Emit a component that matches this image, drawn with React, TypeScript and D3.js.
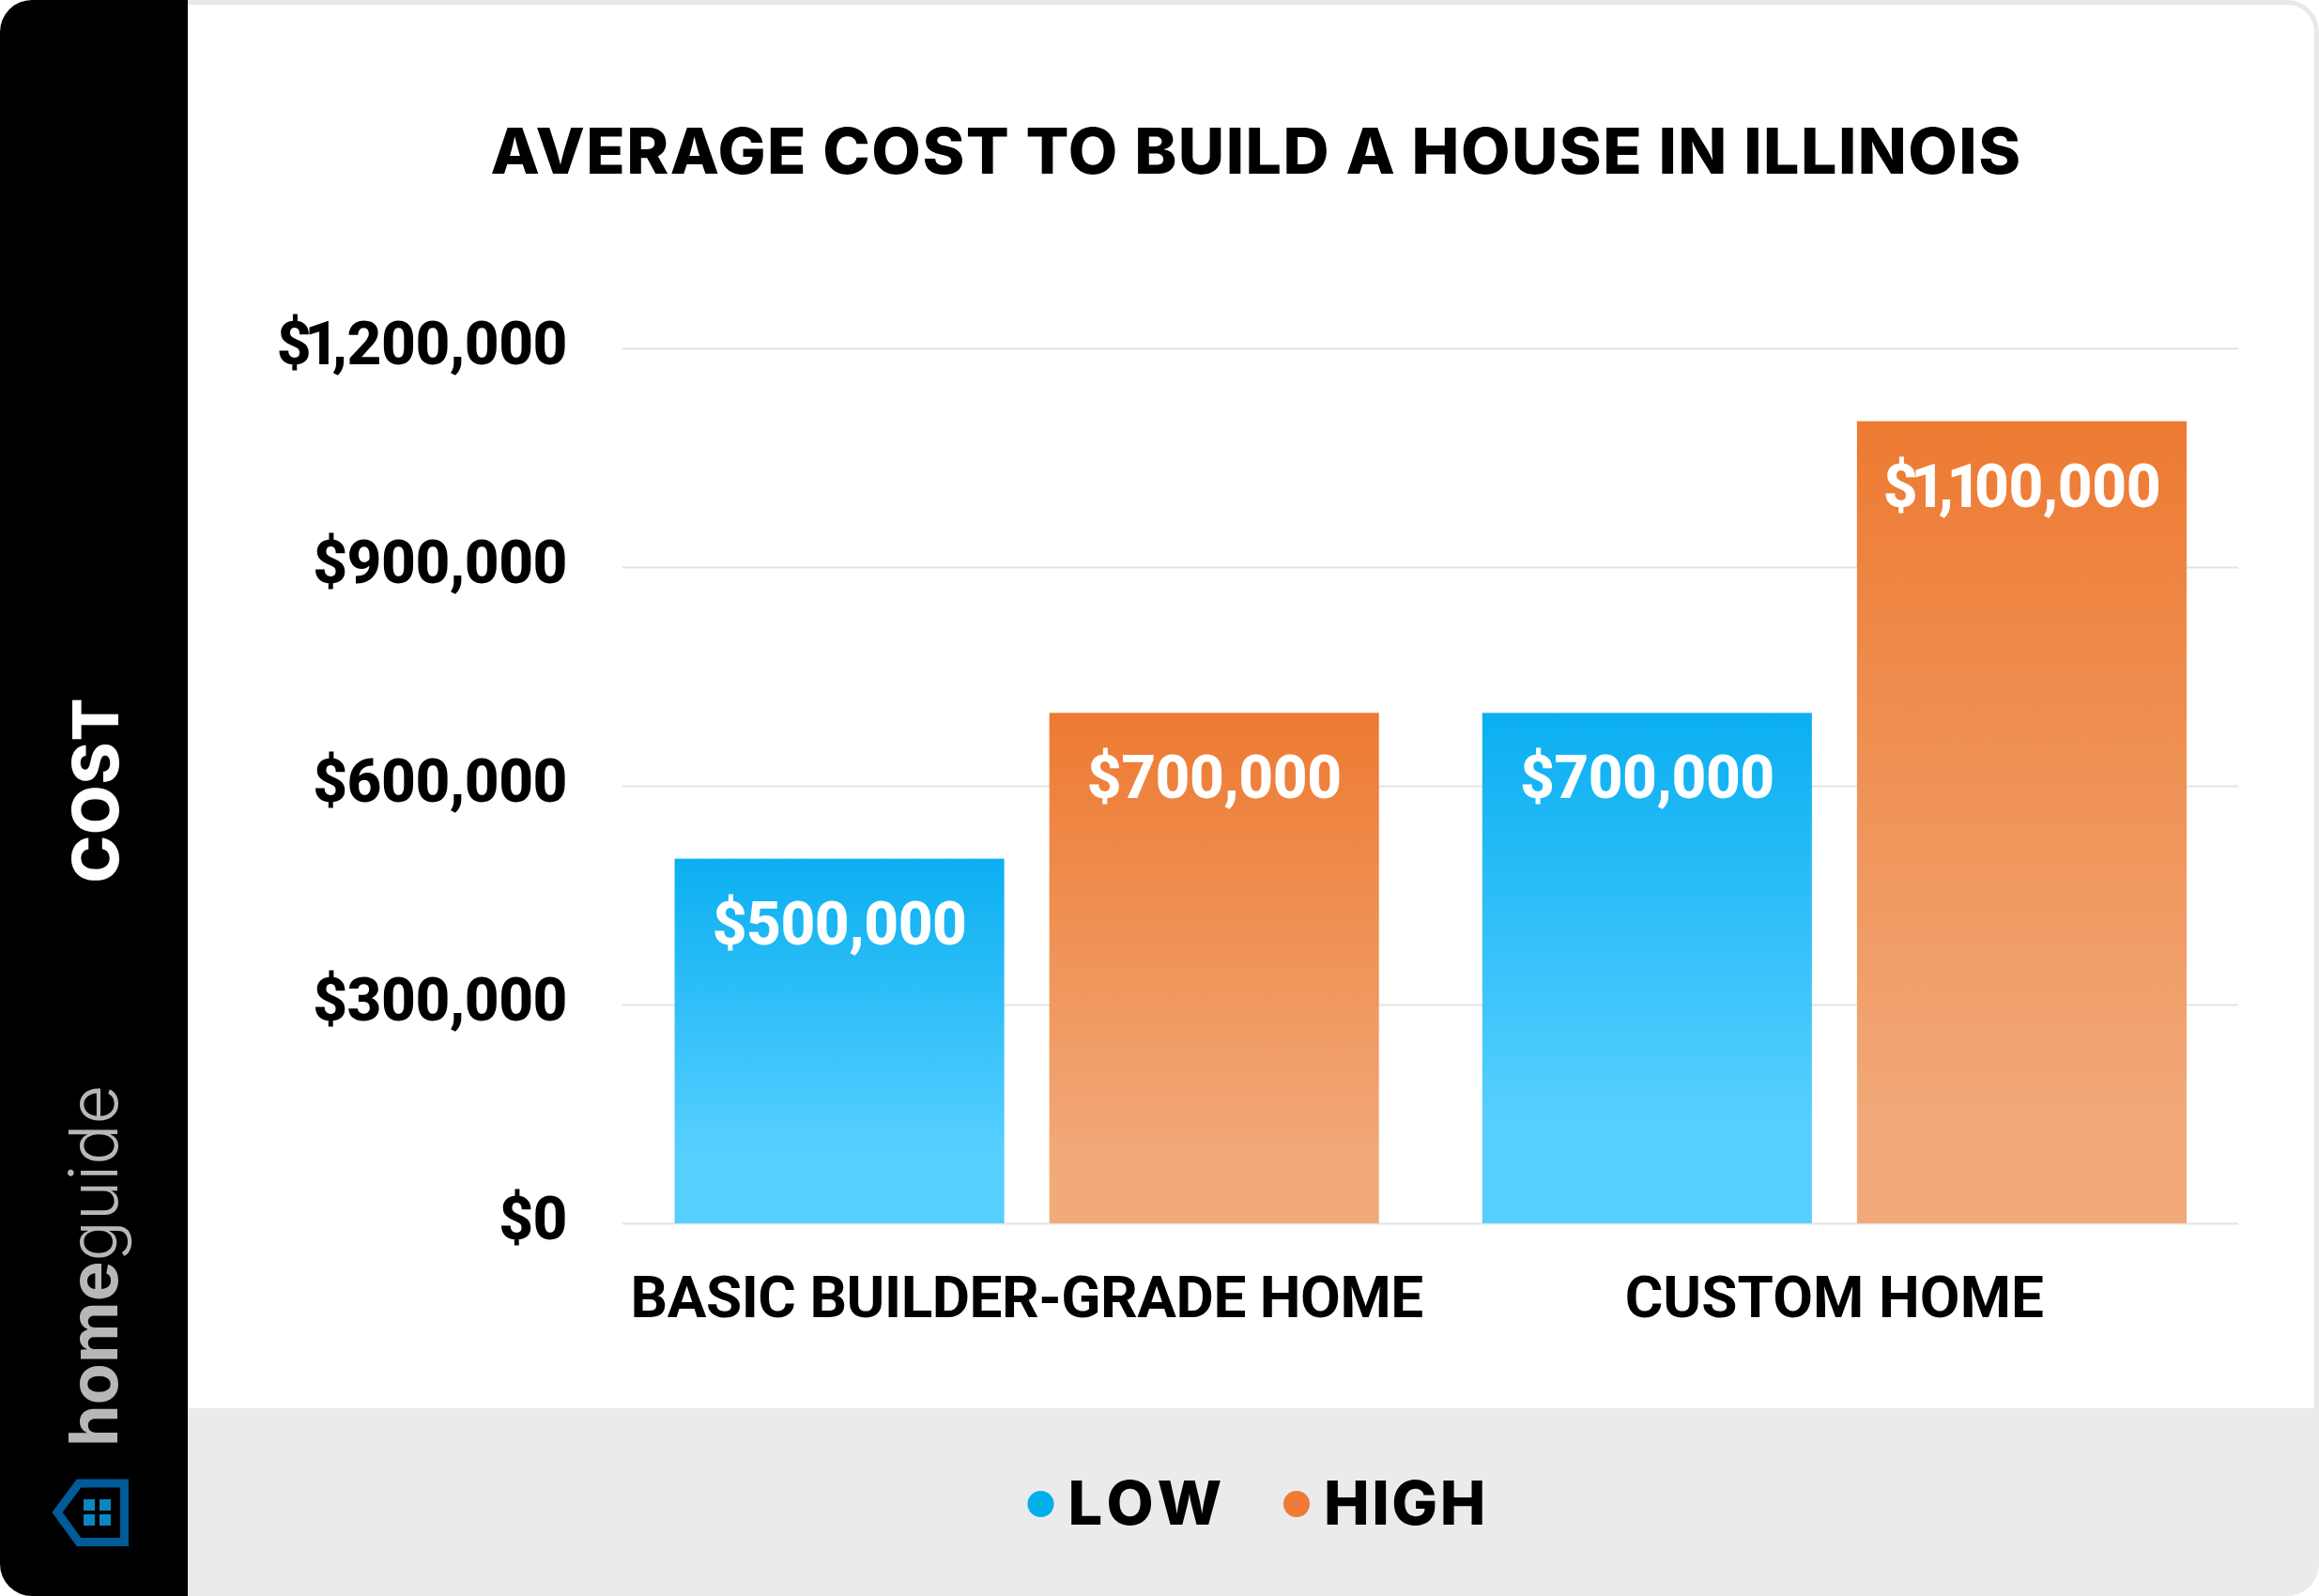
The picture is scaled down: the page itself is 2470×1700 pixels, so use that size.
import React, { useEffect, useRef } from 'react';
import * as d3 from 'd3';

const title = 'AVERAGE COST TO BUILD A HOUSE IN ILLINOIS';
const categories = ['BASIC BUILDER-GRADE HOME', 'CUSTOM HOME'];
const seriesNames = ['LOW', 'HIGH'];
const lowValues = [500000, 700000];
const highValues = [700000, 1100000];
const yTicks = [0, 300000, 600000, 900000, 1200000];

const W = 2470;
const H = 1700;
const plot = { left: 663, right: 2384, top: 371, bottom: 1303 };
const labelFont = 'Roboto, sans-serif';
const headFont = 'Inter, sans-serif';

const colors: Record<string, [string, string, string]> = {
  LOW: ['#0bafF1', '#56cfff', '80%'],
  HIGH: ['#ed7a32', '#f2aa7b', '90%'],
};

// the reference font has a narrow "1", Roboto's is tabular, so pull its neighbours in
const oneKerning = (label: string) =>
  label
    .split('')
    .map((ch, i) => (ch === '1' || label[i - 1] === '1' ? -7 : 0))
    .join(' ');

const App: React.FC = () => {
  const ref = useRef<SVGSVGElement | null>(null);

  useEffect(() => {
    if (!ref.current) return;
    const svg = d3.select(ref.current);
    svg.selectAll('*').remove();
    const money = d3.format('$,');

    const defs = svg.append('defs');
    defs
      .append('clipPath')
      .attr('id', 'card')
      .append('rect')
      .attr('width', W)
      .attr('height', H)
      .attr('rx', 34);

    seriesNames.forEach((s) => {
      const g = defs
        .append('linearGradient')
        .attr('id', `grad-${s}`)
        .attr('x1', 0)
        .attr('x2', 0)
        .attr('y1', 0)
        .attr('y2', 1);
      g.append('stop').attr('offset', '0%').attr('stop-color', colors[s][0]);
      g.append('stop').attr('offset', colors[s][2]).attr('stop-color', colors[s][1]);
    });

    // Card background, footer and side panel
    const card = svg.append('g').attr('clip-path', 'url(#card)');
    card.append('rect').attr('width', W).attr('height', H).attr('fill', '#fff');
    card.append('rect').attr('x', 200).attr('y', 1500).attr('width', W - 200).attr('height', 200).attr('fill', '#ebebeb');
    card.append('rect').attr('width', 200).attr('height', H).attr('fill', '#000');
    svg
      .append('path')
      .attr('d', `M200,2.5 H${W - 34} A31.5,31.5 0 0 1 ${W - 2.5},34 V1500`)
      .attr('fill', 'none')
      .attr('stroke', '#e8e8e8')
      .attr('stroke-width', 5);

    // Scales
    const y = d3.scaleLinear().domain([0, 1200000]).range([plot.bottom, plot.top]);
    const x0 = d3.scaleBand<string>().domain(categories).range([plot.left + 0.5, plot.right]);
    const x1 = d3
      .scaleBand<string>()
      .domain(seriesNames)
      .range([0, x0.bandwidth()])
      .paddingInner(0.1203)
      .paddingOuter(0.1379);

    // Axes
    const yAxis = svg
      .append('g')
      .attr('transform', `translate(${plot.left},0)`)
      .call(
        d3
          .axisLeft(y)
          .tickValues(yTicks)
          .tickFormat((d) => money(d as number))
          .tickSize(-(plot.right - plot.left))
          .tickPadding(59)
      );
    yAxis.select('.domain').remove();
    yAxis.selectAll('line').attr('stroke', '#e3e3e6').attr('stroke-width', 2);
    yAxis
      .selectAll<SVGTextElement, number>('text')
      .attr('y', 16)
      .attr('dy', null)
      .attr('dx', (d) => oneKerning(money(d)))
      .attr('fill', '#000')
      .attr('font-family', labelFont)
      .attr('font-weight', 800)
      .attr('font-size', 64)
      .attr('letter-spacing', -0.5);

    const catSpacing = [-0.45, 0.1];
    const xAxis = svg
      .append('g')
      .attr('transform', `translate(0,${plot.bottom})`)
      .call(d3.axisBottom(x0).tickSize(0).tickPadding(0));
    xAxis.select('.domain').remove();
    xAxis
      .selectAll('text')
      .attr('y', 100)
      .attr('dy', 0)
      .attr('fill', '#000')
      .attr('font-family', labelFont)
      .attr('font-weight', 700)
      .attr('font-size', 62)
      .attr('letter-spacing', (_, i) => catSpacing[i]);

    // Bars
    const rows = categories.flatMap((c, i) => [
      { category: c, series: 'LOW', value: lowValues[i] },
      { category: c, series: 'HIGH', value: highValues[i] },
    ]);
    const bars = svg
      .append('g')
      .selectAll('g')
      .data(rows)
      .enter()
      .append('g')
      .attr('transform', (d) => `translate(${(x0(d.category) as number) + (x1(d.series) as number)},0)`);
    bars
      .append('rect')
      .attr('y', (d) => y(d.value))
      .attr('width', x1.bandwidth())
      .attr('height', (d) => y(0) - y(d.value))
      .attr('fill', (d) => `url(#grad-${d.series})`);
    bars
      .append('text')
      .attr('x', x1.bandwidth() / 2)
      .attr('y', (d) => y(d.value) + 91)
      .attr('dx', (d) => oneKerning(money(d.value)))
      .attr('text-anchor', 'middle')
      .attr('fill', '#fff')
      .attr('font-family', labelFont)
      .attr('font-weight', 800)
      .attr('font-size', 64)
      .attr('letter-spacing', -0.5)
      .text((d) => money(d.value));

    // Title
    svg
      .append('text')
      .attr('x', 1338)
      .attr('y', 185)
      .attr('text-anchor', 'middle')
      .attr('font-family', headFont)
      .attr('font-weight', 800)
      .attr('font-size', 68)
      .attr('letter-spacing', 1.46)
      .attr('fill', '#000')
      .text(title);

    // Legend
    const legendX = [1108.5, 1381];
    const legendSpacing = [6, 2.5];
    const legend = svg
      .append('g')
      .selectAll('g')
      .data(seriesNames)
      .enter()
      .append('g')
      .attr('transform', (_, i) => `translate(${legendX[i]},1602)`);
    legend.append('circle').attr('r', 14).attr('fill', (s) => (s === 'LOW' ? '#00b0e8' : '#ed7b35'));
    legend
      .append('text')
      .attr('x', 29)
      .attr('y', 22)
      .attr('font-family', headFont)
      .attr('font-weight', 800)
      .attr('font-size', 65)
      .attr('letter-spacing', (_, i) => legendSpacing[i])
      .attr('fill', '#000')
      .text((s) => s);

    // Side panel text
    svg
      .append('text')
      .attr('transform', 'translate(126,841.5) rotate(-90)')
      .attr('text-anchor', 'middle')
      .attr('font-family', headFont)
      .attr('font-weight', 800)
      .attr('font-size', 68)
      .attr('letter-spacing', 1)
      .attr('fill', '#fff')
      .text('COST');

    const brand = svg
      .append('text')
      .attr('transform', 'translate(125,1541) rotate(-90)')
      .attr('font-family', headFont)
      .attr('font-size', 72)
      .attr('fill', '#b7b7b7');
    brand.append('tspan').attr('font-weight', 700).text('home');
    brand.append('tspan').attr('font-weight', 300).text('guide');

    // Logo
    const logo = svg.append('g');
    logo
      .append('path')
      .attr('d', 'M61,1611 L84,1580 H132.5 V1642.5 H84 Z')
      .attr('fill', 'none')
      .attr('stroke', '#005b97')
      .attr('stroke-width', 9);
    [89, 106].forEach((wx) =>
      [1597, 1613].forEach((wy) =>
        logo.append('rect').attr('x', wx).attr('y', wy).attr('width', 12).attr('height', 12).attr('fill', '#0a86c2')
      )
    );
  }, []);

  return <svg ref={ref} width={W} height={H} style={{ position: 'absolute', left: 0, top: 0, display: 'block' }}></svg>;
};

export default App;
